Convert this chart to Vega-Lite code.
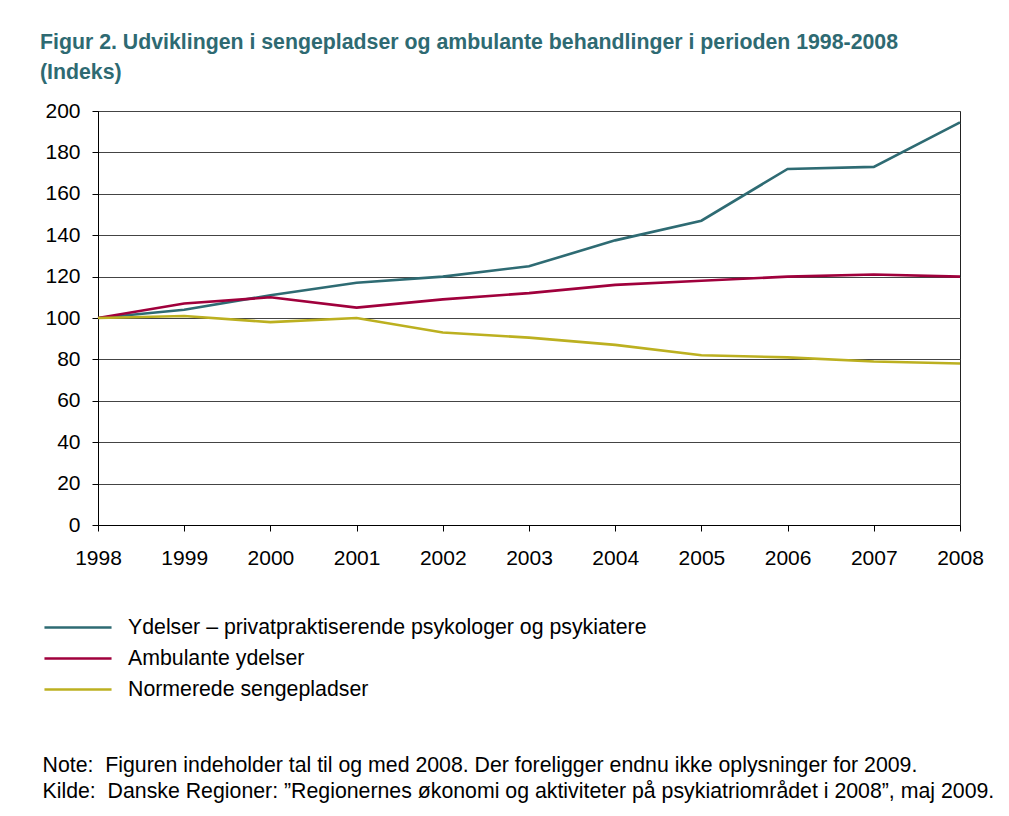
{
  "$schema": "https://vega.github.io/schema/vega-lite/v6.json",
  "autosize": {"type": "none"},
  "padding": {"left": 98, "top": 111, "right": 49, "bottom": 291},
  "width": 862,
  "height": 414,
  "background": "white",
  "config": {
    "font": "Liberation Sans",
    "view": {"stroke": "#222", "strokeWidth": 1}
  },
  "title": {
    "text": ["Figur 2. Udviklingen i sengepladser og ambulante behandlinger i perioden 1998-2008", "(Indeks)"],
    "anchor": "start",
    "frame": "group",
    "dx": -58,
    "offset": 17,
    "fontSize": 21.3,
    "fontWeight": "bold",
    "color": "#2e6a72",
    "lineHeight": 30,
    "font": "Liberation Sans"
  },
  "data": {
    "values": [
      {"year": "1998", "series": "Ydelser – privatpraktiserende psykologer og psykiatere", "value": 100},
      {"year": "1999", "series": "Ydelser – privatpraktiserende psykologer og psykiatere", "value": 104},
      {"year": "2000", "series": "Ydelser – privatpraktiserende psykologer og psykiatere", "value": 111},
      {"year": "2001", "series": "Ydelser – privatpraktiserende psykologer og psykiatere", "value": 117},
      {"year": "2002", "series": "Ydelser – privatpraktiserende psykologer og psykiatere", "value": 120},
      {"year": "2003", "series": "Ydelser – privatpraktiserende psykologer og psykiatere", "value": 125},
      {"year": "2004", "series": "Ydelser – privatpraktiserende psykologer og psykiatere", "value": 137.5},
      {"year": "2005", "series": "Ydelser – privatpraktiserende psykologer og psykiatere", "value": 147},
      {"year": "2006", "series": "Ydelser – privatpraktiserende psykologer og psykiatere", "value": 172},
      {"year": "2007", "series": "Ydelser – privatpraktiserende psykologer og psykiatere", "value": 173},
      {"year": "2008", "series": "Ydelser – privatpraktiserende psykologer og psykiatere", "value": 194.5},
      {"year": "1998", "series": "Ambulante ydelser", "value": 100},
      {"year": "1999", "series": "Ambulante ydelser", "value": 107},
      {"year": "2000", "series": "Ambulante ydelser", "value": 110},
      {"year": "2001", "series": "Ambulante ydelser", "value": 105},
      {"year": "2002", "series": "Ambulante ydelser", "value": 109},
      {"year": "2003", "series": "Ambulante ydelser", "value": 112},
      {"year": "2004", "series": "Ambulante ydelser", "value": 116},
      {"year": "2005", "series": "Ambulante ydelser", "value": 118},
      {"year": "2006", "series": "Ambulante ydelser", "value": 120},
      {"year": "2007", "series": "Ambulante ydelser", "value": 121},
      {"year": "2008", "series": "Ambulante ydelser", "value": 120},
      {"year": "1998", "series": "Normerede sengepladser", "value": 100},
      {"year": "1999", "series": "Normerede sengepladser", "value": 101},
      {"year": "2000", "series": "Normerede sengepladser", "value": 98},
      {"year": "2001", "series": "Normerede sengepladser", "value": 100},
      {"year": "2002", "series": "Normerede sengepladser", "value": 93},
      {"year": "2003", "series": "Normerede sengepladser", "value": 90.5},
      {"year": "2004", "series": "Normerede sengepladser", "value": 87},
      {"year": "2005", "series": "Normerede sengepladser", "value": 82},
      {"year": "2006", "series": "Normerede sengepladser", "value": 81},
      {"year": "2007", "series": "Normerede sengepladser", "value": 79},
      {"year": "2008", "series": "Normerede sengepladser", "value": 78}
    ]
  },
  "mark": {"type": "line", "strokeWidth": 2.6},
  "encoding": {
    "x": {
      "field": "year",
      "type": "ordinal",
      "scale": {"type": "point", "padding": 0},
      "axis": {
        "labelAngle": 0,
        "labelFontSize": 21,
        "labelColor": "#000",
        "labelPadding": 16,
        "tickSize": 6,
        "tickColor": "#000",
        "domainColor": "#000",
        "grid": false,
        "title": ["Note:\u00a0 Figuren indeholder tal til og med 2008. Der foreligger endnu ikke oplysninger for 2009.", "Kilde:\u00a0 Danske Regioner: \u201dRegionernes økonomi og aktiviteter på psykiatriområdet i 2008\u201d, maj 2009."],
        "titleFontSize": 21.3,
        "titleFontWeight": "normal",
        "titleColor": "#000",
        "titleAnchor": "start",
        "titleAlign": "left",
        "titleBaseline": "alphabetic",
        "titleX": -56,
        "titleY": 246,
        "titleLineHeight": 26
      }
    },
    "y": {
      "field": "value",
      "type": "quantitative",
      "scale": {"domain": [0, 200], "nice": false, "zero": true},
      "axis": {
        "values": [0, 20, 40, 60, 80, 100, 120, 140, 160, 180, 200],
        "labelFontSize": 21,
        "labelColor": "#000",
        "labelPadding": 12,
        "tickSize": 6,
        "tickColor": "#000",
        "domainColor": "#000",
        "gridColor": "#444",
        "gridOpacity": 1,
        "title": null
      }
    },
    "color": {
      "field": "series",
      "type": "nominal",
      "sort": ["Ydelser – privatpraktiserende psykologer og psykiatere", "Ambulante ydelser", "Normerede sengepladser"],
      "scale": {
        "domain": ["Ydelser – privatpraktiserende psykologer og psykiatere", "Ambulante ydelser", "Normerede sengepladser"],
        "range": ["#2e6b73", "#a0003c", "#bcb020"]
      },
      "legend": {
        "title": null,
        "orient": "none",
        "legendX": -32.5,
        "legendY": 504,
        "symbolType": "M-3,0H3",
        "symbolSize": 500,
        "symbolStrokeWidth": 2.6,
        "labelFontSize": 21.3,
        "labelColor": "#000",
        "labelOffset": 37.5,
        "rowPadding": 8,
        "labelLimit": 800
      }
    }
  }
}
